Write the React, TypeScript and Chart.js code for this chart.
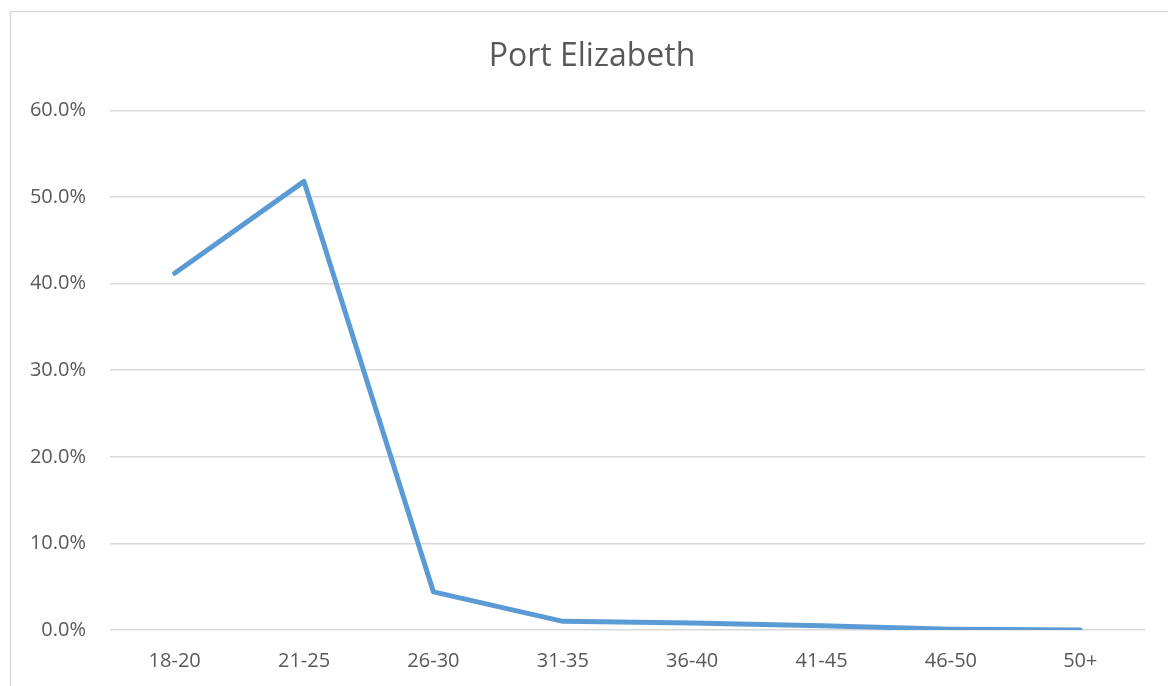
import React, { useEffect, useRef } from "react";
import { Chart, registerables } from "chart.js";

Chart.register(...registerables);

const categories = ["18-20", "21-25", "26-30", "31-35", "36-40", "41-45", "46-50", "50+"];
const shares = [41.2, 51.8, 4.4, 1.0, 0.8, 0.5, 0.1, 0.0];
const yTicks = [0, 10, 20, 30, 40, 50, 60];
const chartTitle = "Port Elizabeth";

const FONT = "'Open Sans', 'Noto Sans', sans-serif";
const TEXT = "#595959";
const GRID = "#d9d9d9";

const borderPlugin = {
  id: "frameBorder",
  beforeDraw(chart: any) {
    const ctx = chart.ctx;
    ctx.save();
    ctx.fillStyle = "#ffffff";
    ctx.fillRect(0, 0, chart.width, chart.height);
    ctx.strokeStyle = GRID;
    ctx.lineWidth = 1.5;
    ctx.strokeRect(10.5, 11.5, 3000, 3000);
    ctx.restore();
  },
  afterLayout(chart: any) {
    const t = chart.titleBlock;
    if (t) {
      t.left = 16;
      t.right = 1168;
      t.width = t.right - t.left;
    }
  },
};

export default function App() {
  const ref = useRef<HTMLCanvasElement | null>(null);
  useEffect(() => {
    document.body.style.margin = "0";
    const canvas = ref.current;
    if (!canvas) return;
    const chart = new Chart(canvas, {
      type: "line",
      data: {
        labels: categories,
        datasets: [
          {
            data: shares,
            borderColor: "#5B9BD5",
            backgroundColor: "#5B9BD5",
            borderWidth: 5,
            pointRadius: 0,
            borderCapStyle: "round",
            borderJoinStyle: "round",
            tension: 0,
          },
        ],
      },
      options: {
        responsive: false,
        animation: false,
        layout: { padding: { left: 0, right: 23, top: 0, bottom: 0 } },
        plugins: {
          legend: { display: false },
          tooltip: { enabled: false },
          title: {
            display: true,
            text: chartTitle,
            color: TEXT,
            font: { family: FONT, size: 32, weight: "normal", lineHeight: 1.2 },
            padding: { top: 38, bottom: 34 },
          },
        },
        scales: {
          x: {
            type: "category",
            offset: true,
            grid: { display: false, drawTicks: false },
            border: { display: false },
            ticks: { color: TEXT, font: { family: FONT, size: 20 }, padding: 19, maxRotation: 0 },
            afterFit(scale: any) {
              scale.height = 56;
            },
          },
          y: {
            min: 0,
            max: 60,
            afterBuildTicks(scale: any) {
              scale.ticks = yTicks.map((v) => ({ value: v }));
            },
            grid: { color: GRID, lineWidth: 1.5, drawTicks: false },
            border: { display: false },
            ticks: {
              color: TEXT,
              font: { family: FONT, size: 20 },
              padding: 24,
              callback: (v: any) => Number(v).toFixed(1) + "%",
            },
            afterFit(scale: any) {
              scale.width = 110;
            },
          },
        },
      },
      plugins: [borderPlugin],
    });
    return () => chart.destroy();
  }, []);
  return <canvas ref={ref} width={1168} height={686} style={{ display: "block" }} />;
}
